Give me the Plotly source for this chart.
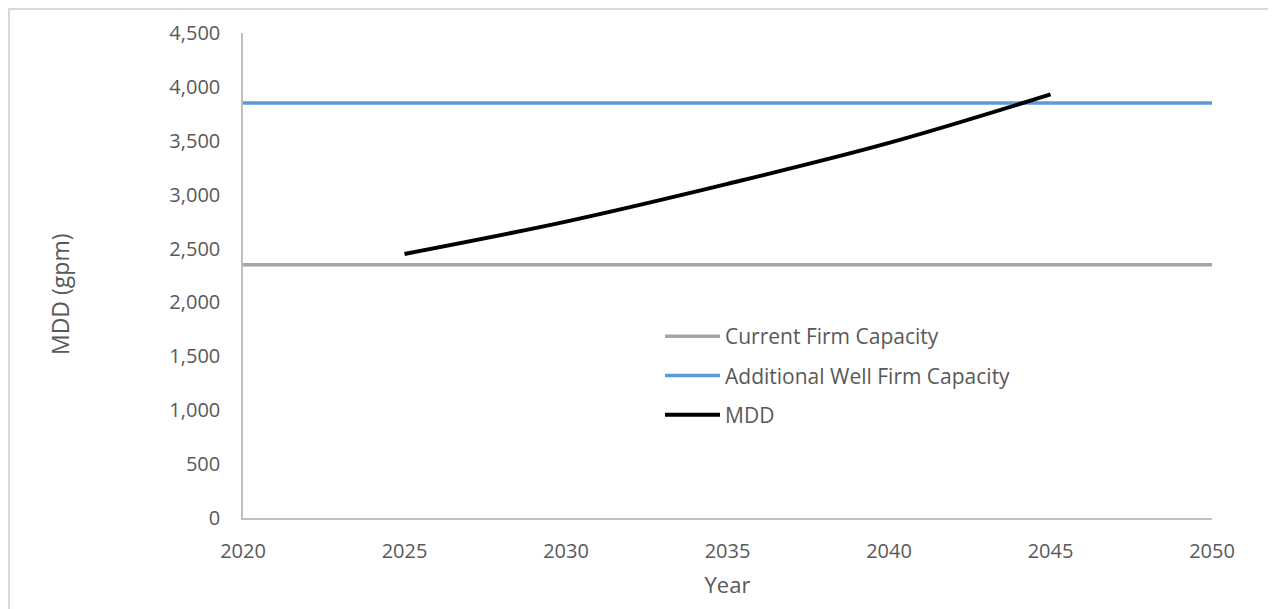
import plotly.graph_objects as go

# Data
years_mdd = [2025, 2030, 2035, 2040, 2045]
mdd_gpm = [2450, 2750, 3100, 3480, 3930]
capacity_years = [2020, 2050]
current_firm_capacity = [2350, 2350]
additional_well_capacity = [3850, 3850]

y_ticks = [0, 500, 1000, 1500, 2000, 2500, 3000, 3500, 4000, 4500]
x_ticks = [2020, 2025, 2030, 2035, 2040, 2045, 2050]

FONT = "Open Sans"
TXT = "#595959"
FS = 20

fig = go.Figure()
fig.add_trace(go.Scatter(x=capacity_years, y=current_firm_capacity, mode="lines",
                         name="Current Firm Capacity", legendgroup="a",
                         line=dict(color="#a5a5a5", width=3.5)))
fig.add_trace(go.Scatter(x=capacity_years, y=additional_well_capacity, mode="lines",
                         name="Additional Well Firm Capacity", legendgroup="b",
                         line=dict(color="#5b9bd5", width=3.5)))
fig.add_trace(go.Scatter(x=years_mdd, y=mdd_gpm, mode="lines", name="MDD", legendgroup="c",
                         line=dict(color="#000000", width=4, shape="spline")))

# page body has an 8px offset
OFF = 8
W, H = 1276, 609
L, T = 243 - OFF, 33 - OFF
pw, ph = 969, 485
R = W - L - pw
B = H - T - ph

fig.update_layout(
    width=W, height=H,
    margin=dict(l=L, r=R, t=T, b=B),
    paper_bgcolor="white", plot_bgcolor="white",
    font=dict(family=FONT, color=TXT, size=FS),
    showlegend=True,
    legend=dict(x=(660 - 243) / pw, y=(518 - 316) / ph, xanchor="left", yanchor="top",
                bgcolor="rgba(0,0,0,0)", font=dict(size=21, color=TXT),
                itemwidth=55, tracegroupgap=9, traceorder="grouped"),
    xaxis=dict(range=[2020, 2050], tickvals=x_ticks, ticktext=[str(v) for v in x_ticks],
               showgrid=False, zeroline=False, showline=True, linecolor="#bfbfbf",
               linewidth=1.5, ticks="", ticklabelstandoff=14, tickfont=dict(size=FS, color=TXT),
               title=dict(text="Year", font=dict(size=22, color=TXT), standoff=15)),
    yaxis=dict(range=[0, 4500], tickvals=y_ticks,
               ticktext=[f"{v:,}" for v in y_ticks],
               showgrid=False, zeroline=False, showline=True, linecolor="#bfbfbf",
               linewidth=1.5, ticks="", ticklabelstandoff=17, tickfont=dict(size=FS, color=TXT)),
)

# y-axis title (Excel places it slightly below the plot centre)
fig.add_annotation(text="MDD (gpm)", textangle=-90, xref="paper", yref="paper",
                   x=(60 - 243) / pw, y=(518 - 295) / ph, xanchor="center", yanchor="middle",
                   showarrow=False, font=dict(size=23, color=TXT))

# outer chart border (page y/x 8 is the top-left of the figure)
fig.add_shape(type="rect", xref="paper", yref="paper",
              x0=(9 - 243) / pw, x1=(1300 - 243) / pw,
              y0=(518 - 640) / ph, y1=(518 - 9) / ph,
              line=dict(color="#d9d9d9", width=2), layer="below")

fig.write_html("out.html")
